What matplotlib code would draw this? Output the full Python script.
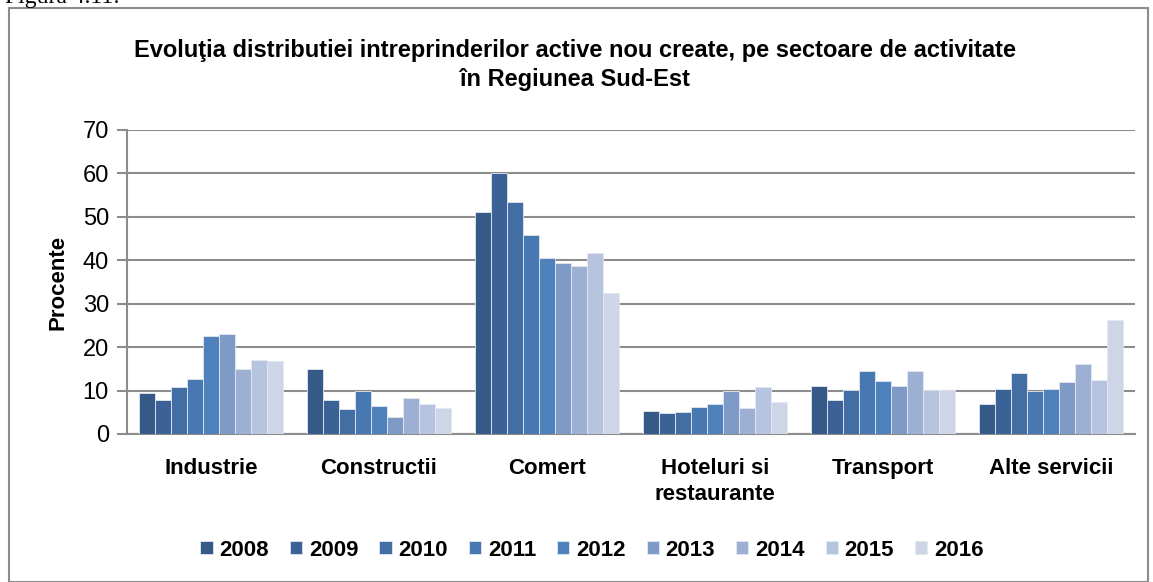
import matplotlib
matplotlib.use("Agg")
import matplotlib.pyplot as plt
from matplotlib.patches import Rectangle
import numpy as np

plt.rcParams['font.family'] = ['Liberation Sans Narrow', 'Liberation Sans', 'DejaVu Sans']

sectors = ['Industrie', 'Constructii', 'Comert', 'Hoteluri si\nrestaurante', 'Transport', 'Alte servicii']
years = ['2008', '2009', '2010', '2011', '2012', '2013', '2014', '2015', '2016']

# percent per sector, one list per year
v2008 = [9.5, 15.0, 51.1, 5.4, 11.0, 7.0]
v2009 = [7.8, 7.9, 60.1, 4.8, 7.9, 10.4]
v2010 = [10.9, 5.7, 53.4, 5.0, 10.1, 14.0]
v2011 = [12.6, 9.9, 45.9, 6.2, 14.4, 10.0]
v2012 = [22.5, 6.5, 40.6, 6.8, 12.1, 10.4]
v2013 = [23.0, 3.8, 39.3, 9.9, 11.1, 12.0]
v2014 = [15.0, 8.2, 38.7, 6.1, 14.6, 16.1]
v2015 = [17.0, 6.8, 41.6, 10.8, 10.1, 12.4]
v2016 = [16.8, 6.0, 32.4, 7.3, 10.1, 26.3]
series = [v2008, v2009, v2010, v2011, v2012, v2013, v2014, v2015, v2016]

colors = ['#355a87', '#3a6296', '#426ea3', '#4778b2', '#4f81bd',
          '#7e9bc7', '#9db0d3', '#b7c4df', '#cdd5e6']

W, H = 1153, 582
fig = plt.figure(figsize=(W / 100, H / 100), dpi=100)

# outer chart frame
fig.patches.append(Rectangle((9 / W, 0), 1139 / W, 574 / H, transform=fig.transFigure,
                             fill=False, edgecolor='#8c8c8c', linewidth=1.5))
fig.text(5 / W, 1.004, 'Figura 4.11:', family='Liberation Serif', fontsize=17,
         va='center', ha='left')

ax = fig.add_axes([127 / W, (H - 434) / H, 1008 / W, 304 / H])

x = np.arange(len(sectors))
bw = 0.0952
for i, (yr, vals) in enumerate(zip(years, series)):
    ax.bar(x + (i - 4) * bw, vals, width=bw, color=colors[i], label=yr,
           edgecolor='#e3e8f0', linewidth=0.6, zorder=3)

ax.set_xlim(-0.5, len(sectors) - 0.5)
ax.set_ylim(0, 70)
ax.set_yticks(range(0, 71, 10))
ax.grid(axis='y', color='#8c8c8c', linewidth=1.5, zorder=0)
ax.set_axisbelow(True)

for s in ['top', 'right']:
    ax.spines[s].set_visible(False)
for s in ['left', 'bottom']:
    ax.spines[s].set_color('#8c8c8c')
    ax.spines[s].set_linewidth(1.5)

ax.set_xticks(x)
ax.set_xticklabels(sectors, fontsize=16, fontweight='bold', va='top', linespacing=1.35)
ax.tick_params(axis='x', length=0, pad=17)
ax.tick_params(axis='y', length=7, width=1.5, color='#8c8c8c', labelsize=17, pad=6)

ax.set_ylabel('Procente', fontsize=16, fontweight='bold', labelpad=10)

fig.text(575 / W, 1 - 65 / H,
         'Evoluţia distributiei intreprinderilor active nou create, pe sectoare de activitate\nîn Regiunea Sud-Est',
         ha='center', va='center', fontsize=17, fontweight='bold', linespacing=1.3)

leg = fig.legend(loc='center', bbox_to_anchor=(592 / W, 1 - 550 / H), ncol=9,
                 frameon=False, prop={'size': 16, 'weight': 'bold'},
                 handlelength=0.55, handleheight=0.55, handletextpad=0.3,
                 columnspacing=0.95)

fig.savefig('out.png', dpi=100)
